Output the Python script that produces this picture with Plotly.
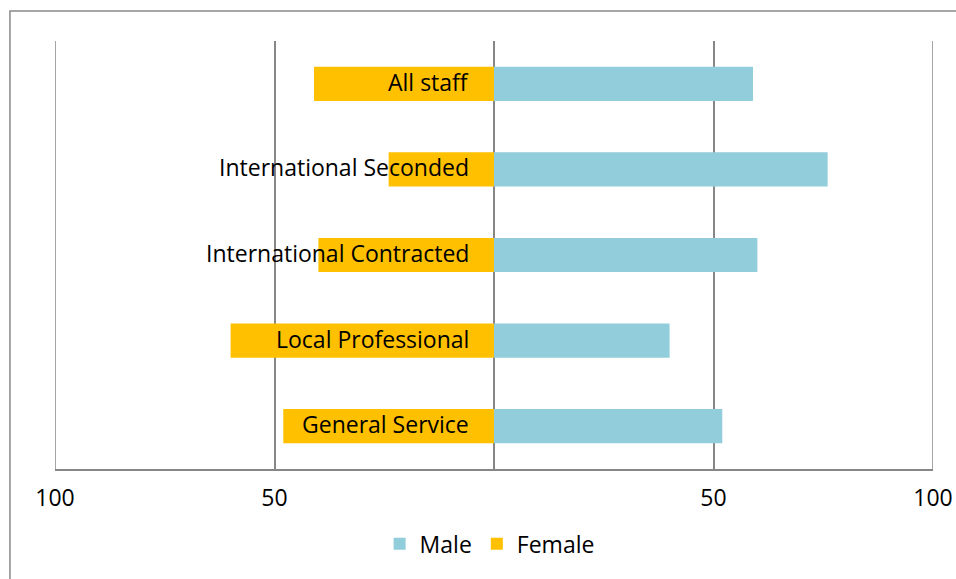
import plotly.graph_objects as go

categories = ["All staff", "International Seconded", "International Contracted",
              "Local Professional", "General Service"]
male = [59, 76, 60, 40, 52]
female = [41, 24, 40, 60, 48]
tick_vals = [-100, -50, 0, 50, 100]
tick_text = ["100", "50", "", "50", "100"]

FONT = "Open Sans"
GRID = "#878787"
FS = 23

fig = go.Figure()
fig.add_trace(go.Bar(y=categories, x=male, name="Male", orientation="h",
                     marker=dict(color="#92CDDC", line_width=0), width=0.4))
fig.add_trace(go.Bar(y=categories, x=[-v for v in female], name="Female", orientation="h",
                     marker=dict(color="#FFC000", line_width=0), width=0.4))

for c in categories:
    fig.add_annotation(x=0, y=c, xref="x", yref="y", text=c, showarrow=False,
                       xanchor="right", xshift=-23, yshift=2,
                       font=dict(family=FONT, size=FS, color="#000000"))

shapes = [dict(type="line", xref="x", yref="paper", x0=v, x1=v, y0=0, y1=1,
               line=dict(color=GRID, width=1.5), layer="below")
          for v in (tick_vals[0], tick_vals[-1])]
shapes.append(dict(type="rect", xref="paper", yref="paper",
                   x0=-0.0513, x1=1.5, y0=-0.5, y1=1.0701,
                   line=dict(color="#898989", width=1.5), fillcolor="rgba(0,0,0,0)",
                   layer="below"))

fig.update_layout(
    width=956, height=579,
    margin=dict(l=55, r=23, t=41, b=110, autoexpand=False),
    paper_bgcolor="white", plot_bgcolor="white",
    barmode="relative",
    showlegend=True,
    legend=dict(orientation="h", x=0.495, xanchor="center", y=-0.175, yanchor="middle",
                font=dict(family=FONT, size=FS, color="#000000"),
                traceorder="normal", itemwidth=30),
    font=dict(family=FONT, size=FS, color="#000000"),
    xaxis=dict(range=[-100, 100], tickvals=tick_vals, ticktext=tick_text,
               showgrid=True, gridcolor=GRID, gridwidth=1.5, zeroline=False,
               showline=True, linecolor=GRID, linewidth=1.5, ticks="",
               ticklabelstandoff=8, automargin=False,
               tickfont=dict(family=FONT, size=FS, color="#000000")),
    yaxis=dict(autorange="reversed", showticklabels=False, showgrid=False,
               zeroline=False, showline=False, automargin=False),
    shapes=shapes,
)

fig.write_html("out.html")
